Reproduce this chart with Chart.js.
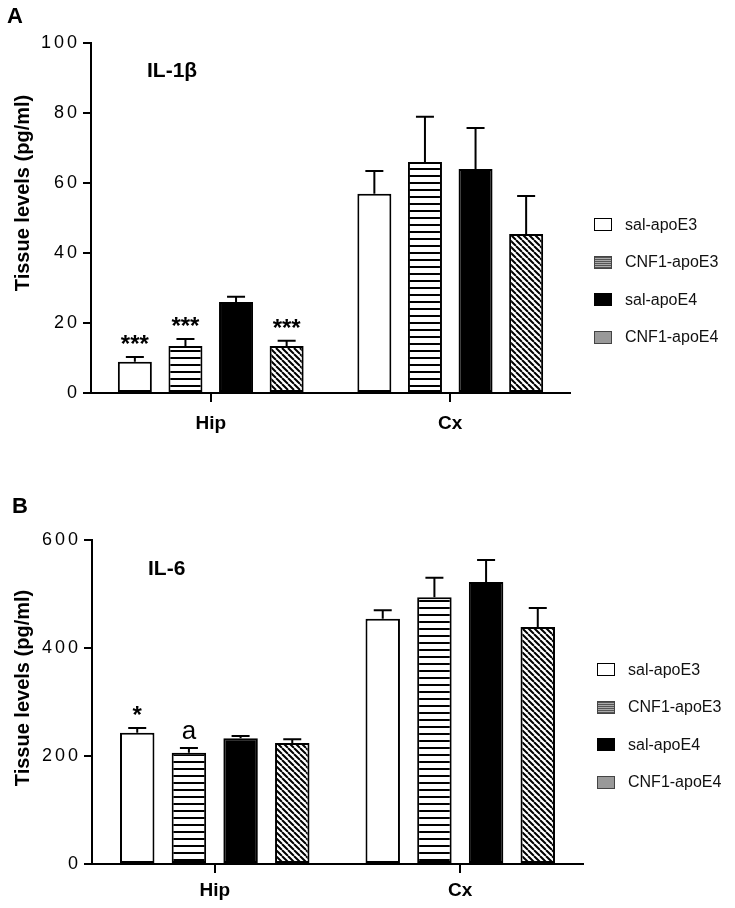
<!DOCTYPE html>
<html>
<head>
<meta charset="utf-8">
<script src="https://cdn.jsdelivr.net/npm/chart.js@4.4.1/dist/chart.umd.min.js"></script>
<style>
  body { margin: 0; background: #fff; }
  #wrap { position: relative; width: 735px; height: 908px; font-family: "Liberation Sans", Arial, sans-serif; }
  canvas { position: absolute; left: 0; }
  .legend { position: absolute; }
  .row { display: flex; align-items: center; height: 37.5px; font-size: 16px; color: #111; }
  .sw { width: 18px; height: 13px; margin-right: 13px; box-sizing: border-box; }
  .s0 { background: #fff; border: 1.5px solid #000; }
  .s1 { background: repeating-linear-gradient(to bottom, #555 0 1px, #aaa 1px 2px); border: 1.5px solid #444; }
  .s2 { background: #000; }
  .s3 { background: #999; border: 1.5px solid #444; }
</style>
</head>
<body>
<div id="wrap">
  <canvas id="chartA" width="735" height="460" style="top:0"></canvas>
  <canvas id="chartB" width="735" height="448" style="top:460px"></canvas>
  <div class="legend" style="left:594px; top:206px">
    <div class="row"><div class="sw s0"></div>sal-apoE3</div>
    <div class="row"><div class="sw s1"></div>CNF1-apoE3</div>
    <div class="row"><div class="sw s2"></div>sal-apoE4</div>
    <div class="row"><div class="sw s3"></div>CNF1-apoE4</div>
  </div>
  <div class="legend" style="left:597px; top:651px">
    <div class="row"><div class="sw s0"></div>sal-apoE3</div>
    <div class="row"><div class="sw s1"></div>CNF1-apoE3</div>
    <div class="row"><div class="sw s2"></div>sal-apoE4</div>
    <div class="row"><div class="sw s3"></div>CNF1-apoE4</div>
  </div>
</div>
<script>
const FONT = '"Liberation Sans", Arial, sans-serif';

const regions = ['Hip', 'Cx'];
const groups = ['sal-apoE3', 'CNF1-apoE3', 'sal-apoE4', 'CNF1-apoE4'];

// one row per group, [Hip, Cx]
const il1bMean = [[8.9, 56.9], [13.4, 66.0], [26.0, 64.0], [13.4, 45.4]];
const il1bSem = [[1.4, 6.5], [2.0, 12.9], [1.5, 11.7], [1.5, 10.9]];
const il1bMarks = [['***', ''], ['***', ''], ['', ''], ['***', '']];

const il6Mean = [[243, 454], [206, 494], [233, 522], [224, 439]];
const il6Sem = [[9, 16], [9, 36], [4, 41], [7, 35]];
const il6Marks = [['*', ''], ['a', ''], ['', ''], ['', '']];

function stripes() {
  const c = document.createElement('canvas');
  c.width = 8; c.height = 7;
  const x = c.getContext('2d');
  x.fillStyle = '#fff'; x.fillRect(0, 0, 8, 7);
  x.fillStyle = '#000'; x.fillRect(0, 0, 8, 2);
  return x.createPattern(c, 'repeat');
}

function hatch() {
  const p = 6;
  const c = document.createElement('canvas');
  c.width = p; c.height = p;
  const x = c.getContext('2d');
  x.fillStyle = '#fff'; x.fillRect(0, 0, p, p);
  x.strokeStyle = '#000'; x.lineWidth = 2;
  x.beginPath();
  [-p, 0, p].forEach(k => { x.moveTo(k, 0); x.lineTo(k + p, p); });
  x.stroke();
  return x.createPattern(c, 'repeat');
}

const fills = ['#ffffff', stripes(), '#000000', hatch()];

// error bars, significance marks, panel letter, cytokine name, y title
const extras = {
  id: 'extras',
  beforeDraw(chart) { chart.ctx.letterSpacing = '3px'; },
  beforeDatasetsDraw(chart) { chart.ctx.letterSpacing = '0px'; },
  afterDatasetsDraw(chart) {
    const ctx = chart.ctx, y = chart.scales.y;
    ctx.save();
    ctx.strokeStyle = '#000'; ctx.fillStyle = '#000'; ctx.lineWidth = 2;
    chart.data.datasets.forEach((ds, i) => {
      chart.getDatasetMeta(i).data.forEach((bar, j) => {
        const top = y.getPixelForValue(ds.data[j] + ds.sem[j]);
        ctx.beginPath();
        ctx.moveTo(bar.x, bar.y); ctx.lineTo(bar.x, top);
        ctx.moveTo(bar.x - 9, top); ctx.lineTo(bar.x + 9, top);
        ctx.stroke();
        const m = ds.marks[j];
        if (m) {
          ctx.font = m === 'a' ? '26px ' + FONT : 'bold 24px ' + FONT;
          ctx.textAlign = 'center'; ctx.textBaseline = 'alphabetic';
          ctx.fillText(m, bar.x, top - (m === 'a' ? 9 : 5));
        }
      });
    });
    ctx.restore();
  },
  afterDraw(chart, args, o) {
    const ctx = chart.ctx;
    ctx.save();
    ctx.letterSpacing = '0px';
    ctx.fillStyle = '#000';
    ctx.textBaseline = 'alphabetic';
    ctx.font = 'bold 22px ' + FONT;
    ctx.fillText(o.letter, o.letterX, o.letterY);
    ctx.font = 'bold 21px ' + FONT;
    ctx.fillText(o.name, o.nameX, o.nameY);
    ctx.font = 'bold 20px ' + FONT;
    ctx.translate(o.titleX, o.titleY);
    ctx.rotate(-Math.PI / 2);
    ctx.textAlign = 'center'; ctx.textBaseline = 'middle';
    ctx.fillText('Tissue levels (pg/ml)', 0, 0);
    ctx.restore();
  }
};

function datasets(means, sems, marks) {
  return groups.map((g, i) => ({
    label: g,
    data: means[i],
    sem: sems[i],
    marks: marks[i],
    backgroundColor: fills[i],
    borderColor: '#000',
    borderWidth: 2,
    borderSkipped: false
  }));
}

function options(c) {
  return {
    responsive: false,
    animation: false,
    events: [],
    layout: { padding: { top: c.top, right: c.right, left: 0, bottom: 0 } },
    datasets: { bar: { categoryPercentage: c.cat, barPercentage: c.bar } },
    scales: {
      x: {
        grid: { offset: false, drawOnChartArea: false, color: '#000', lineWidth: 2, tickLength: 9 },
        border: { color: '#000', width: 2 },
        ticks: { z: 1, color: '#000', padding: c.xPad, font: { family: FONT, size: 19, weight: 'bold' } },
        afterFit: s => { s.height = c.xh; }
      },
      y: {
        min: 0, max: c.max,
        ticks: { stepSize: c.step, color: '#000', padding: 3, font: { family: FONT, size: 18 } },
        grid: { drawOnChartArea: false, color: '#000', lineWidth: 2, tickLength: 8 },
        border: { color: '#000', width: 2 },
        afterFit: s => { s.width = c.left; }
      }
    },
    plugins: {
      legend: { display: false },
      tooltip: { enabled: false },
      extras: c.extras
    }
  };
}

new Chart(document.getElementById('chartA'), {
  type: 'bar',
  data: { labels: regions, datasets: datasets(il1bMean, il1bSem, il1bMarks) },
  options: options({
    top: 43, right: 165, left: 91, xh: 67, xPad: 10, cat: 0.845, bar: 0.672, max: 100, step: 20,
    extras: { letter: 'A', letterX: 7, letterY: 23, name: 'IL-1β', nameX: 147, nameY: 77, titleX: 23, titleY: 193 }
  }),
  plugins: [extras]
});

new Chart(document.getElementById('chartB'), {
  type: 'bar',
  data: { labels: regions, datasets: datasets(il6Mean, il6Sem, il6Marks) },
  options: options({
    top: 80, right: 152, left: 92, xh: 44, xPad: 6, cat: 0.842, bar: 0.667, max: 600, step: 200,
    extras: { letter: 'B', letterX: 12, letterY: 53, name: 'IL-6', nameX: 148, nameY: 115, titleX: 23, titleY: 228 }
  }),
  plugins: [extras]
});
</script>
</body>
</html>
